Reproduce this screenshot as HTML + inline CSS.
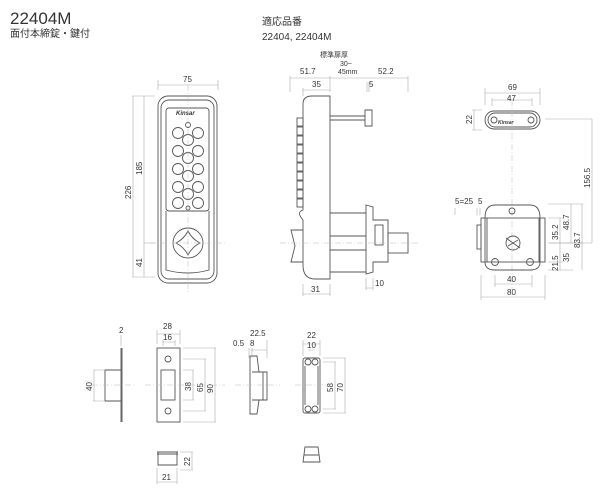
<!DOCTYPE html>
<html><head><meta charset="utf-8"><style>
html,body{margin:0;padding:0;background:#fff}
svg{display:block}
text{font-family:"Liberation Sans","Noto Sans CJK JP",sans-serif;fill:#333}
.o{fill:none;stroke:#555;stroke-width:0.9}
.d{fill:none;stroke:#aaa;stroke-width:0.6}
.c{fill:none;stroke:#bbb;stroke-width:0.5;stroke-dasharray:6 2 1 2}
.t{font-size:8px}
</style></head><body>
<svg width="600" height="493" viewBox="0 0 600 493">
<text x="10" y="24" style="font-size:17px">22404M</text>
<text x="10" y="37" style="font-size:10px">面付本締錠・鍵付</text>
<text x="262" y="25" style="font-size:10px">適応品番</text>
<text x="262" y="40" style="font-size:10px">22404, 22404M</text>

<!-- front view -->
<path class="d" d="M158 80V90M218 80V90M158 85H218M132 96H155M132 277H155M144 243H155M133 96V277M144 96V277"/>
<text class="t" x="183" y="82">75</text>
<text class="t" transform="translate(131,199) rotate(-90)">226</text>
<text class="t" transform="translate(142,175) rotate(-90)">185</text>
<text class="t" transform="translate(142,267) rotate(-90)">41</text>
<rect class="o" x="158" y="96" width="59" height="187" rx="10"/>
<rect class="o" x="161" y="100" width="53" height="179" rx="8"/>
<rect class="o" x="166" y="108" width="43" height="103" rx="3"/>
<path class="o" d="M166 211V270Q188 276 209 270V211"/>
<text x="176" y="115" style="font-size:6px;font-style:italic;font-weight:bold">Kinsar</text>
<g class="o">
<circle cx="178" cy="133" r="5.5"/><circle cx="198" cy="133" r="5.5"/>
<circle cx="178" cy="151" r="5.5"/><circle cx="198" cy="151" r="5.5"/>
<circle cx="178" cy="169" r="5.5"/><circle cx="198" cy="169" r="5.5"/>
<circle cx="178" cy="187" r="5.5"/><circle cx="198" cy="187" r="5.5"/>
<circle cx="178" cy="203" r="5.5"/><circle cx="198" cy="203" r="5.5"/>
<circle cx="188" cy="140" r="5.5"/><circle cx="188" cy="158" r="5.5"/>
<circle cx="188" cy="176" r="5.5"/><circle cx="188" cy="194" r="5.5"/>
<circle cx="188" cy="125" r="2.5"/><circle cx="188" cy="208" r="2"/>
<circle cx="188" cy="243" r="15"/>
<path d="M188 231Q192 239 200 243Q192 247 188 255Q184 247 176 243Q184 239 188 231Z"/>
</g>
<path class="c" d="M188 85V292M150 243H225"/>

<!-- side view -->
<text class="t" x="320" y="57" style="font-size:7px">標準扉厚</text>
<text class="t" x="340" y="66" style="font-size:7px">30~</text>
<text class="t" x="338" y="74" style="font-size:7px">45mm</text>
<text class="t" x="300" y="74">51.7</text>
<text class="t" x="378" y="74">52.2</text>
<text class="t" x="312" y="87">35</text>
<text class="t" x="369" y="87">5</text>
<path class="d" d="M290 78H408M290 76V92M330 76V92M408 76V92M303 90H330M303 88V96M367 82V92M369 82V92"/>
<path class="o" d="M303 104Q303 96 312 96H330V279H315Q303 279 303 265V220Q296 212 303 210Z"/>
<path class="o" d="M330 120H365M330 116H365M365 110H372V126H365Z"/>
<g class="o">
<rect x="297" y="118" width="6" height="8"/><rect x="297" y="127" width="6" height="8"/>
<rect x="297" y="136" width="6" height="8"/><rect x="297" y="145" width="6" height="8"/>
<rect x="297" y="154" width="6" height="8"/><rect x="297" y="163" width="6" height="8"/>
<rect x="297" y="172" width="6" height="8"/><rect x="297" y="181" width="6" height="8"/>
<rect x="297" y="190" width="6" height="8"/><rect x="297" y="199" width="6" height="8"/>
<path d="M303 230H291L295 246L291 262H303"/>
<path d="M330 213H366M330 272H366M330 236H366M330 250H366"/>
<path d="M366 205L373 207V220H388V262H373V272L366 274Z"/>
<rect x="375" y="225" width="8" height="20"/>
<rect x="388" y="233" width="20" height="20"/>
</g>
<path class="c" d="M280 243H420"/>
<path class="d" d="M303 284V296M330 284V296M303 294H330M366 278V290M373 278V290M366 288H373"/>
<text class="t" x="311" y="292">31</text>
<text class="t" x="375" y="286">10</text>

<!-- strike top -->
<path class="d" d="M485 88V105M540 88V105M485 93H540M492 100H532M492 98V106M532 98V106M472 110H482M472 130H482M474 110V130M545 119H592M592 119V243M548 243H592"/>
<text class="t" x="508" y="90">69</text>
<text class="t" x="507" y="101">47</text>
<text class="t" transform="translate(472,124) rotate(-90)">22</text>
<text class="t" transform="translate(590,188) rotate(-90)">156.5</text>
<rect class="o" x="485" y="111" width="55" height="18" rx="9"/>
<rect class="o" x="488" y="113" width="49" height="14" rx="7"/>
<circle class="o" cx="494" cy="120" r="3"/><circle class="o" cx="531" cy="120" r="3"/>
<text x="498" y="124" style="font-size:5px;font-style:italic;font-weight:bold">Kinsar</text>
<path class="c" d="M512 100V290"/>
<!-- case -->
<text class="t" x="455" y="204">5=25</text><text class="t" x="478" y="204">5</text>
<path class="d" d="M455 208V215M477 208V215M480 208V215M548 218H563M548 262H563M548 270H573M548 204H583M560 218V262M571 204V243M560 262V270M582 204V270M549 243H583M495 275V287M532 275V287M495 284H532M481 275V300M545 275V300M481 297H545"/>
<text class="t" transform="translate(558,240) rotate(-90)">35.2</text>
<text class="t" transform="translate(569,230) rotate(-90)">48.7</text>
<text class="t" transform="translate(580,248) rotate(-90)">83.7</text>
<text class="t" transform="translate(558,271) rotate(-90)">21.5</text>
<text class="t" transform="translate(569,262) rotate(-90)">35</text>
<text class="t" x="507" y="282">40</text>
<text class="t" x="507" y="295">80</text>
<path class="o" d="M485 218Q485 205 495 205H530Q540 205 540 218V262Q540 270 530 270H495Q485 270 485 262Z"/>
<rect class="o" x="481" y="218" width="64" height="44"/>
<rect class="o" x="477" y="225" width="4" height="24"/>
<path class="o" d="M487 218V262M539 218V262"/>
<circle class="o" cx="512" cy="211" r="3"/><circle class="o" cx="495" cy="262" r="3.5"/><circle class="o" cx="530" cy="262" r="3.5"/>
<circle class="o" cx="513" cy="243" r="7"/>
<path class="o" d="M506 238L520 248M508 246L518 240"/>

<!-- bottom parts -->
<path class="o" d="M121 348V422M122 348V422M105 370H121V401H105Z"/>
<path class="d" d="M93 370H104M93 401H104M94 370V401M121 335V346"/>
<text class="t" transform="translate(92,391) rotate(-90)">40</text>
<text class="t" x="119" y="333">2</text>
<rect class="o" x="157" y="348" width="23" height="74"/>
<rect class="o" x="161" y="370" width="14" height="30"/>
<circle class="o" cx="168" cy="359" r="3"/><circle class="o" cx="168" cy="411" r="3"/>
<path class="d" d="M157 330V344M180 330V344M157 334H180M163 342H175M163 340V346M175 340V346M183 370H194M183 400H194M193 370V400M183 359H206M183 411H206M205 359V411M183 348H216M183 422H216M215 348V422"/>
<text class="t" x="163" y="329">28</text><text class="t" x="163" y="340">16</text>
<text class="t" transform="translate(191,391) rotate(-90)">38</text>
<text class="t" transform="translate(203,392) rotate(-90)">65</text>
<text class="t" transform="translate(213,393) rotate(-90)">90</text>
<path class="o" d="M157 452H178M158 452V465H177V452M157 454H178"/>
<path class="d" d="M180 452H193M180 470H193M192 452V470M157 468V484M177 468V484M157 482H177"/>
<text class="t" transform="translate(190,466) rotate(-90)">22</text>
<text class="t" x="162" y="480">21</text>
<path class="o" d="M250 356H257L259 372H267V400H259L257 414H250Z"/>
<path class="o" d="M252 372H263V400H252"/>
<path class="d" d="M249 348V358M252 348V358M250 350H267M267 340V358"/>
<text class="t" x="233" y="346">0.5</text><text class="t" x="250" y="346">8</text><text class="t" x="250" y="336">22.5</text>
<rect class="o" x="303" y="358" width="17" height="55" rx="2"/>
<path class="o" d="M305 366V405M318 366V405"/>
<circle class="o" cx="308" cy="362" r="3"/><circle class="o" cx="315" cy="362" r="3"/>
<circle class="o" cx="308" cy="409" r="3"/><circle class="o" cx="315" cy="409" r="3"/>
<path class="d" d="M303 340V356M320 340V356M303 344H320M308 350H315M323 362H336M323 409H336M335 362V409M323 358H346M323 413H346M345 358V413"/>
<text class="t" x="307" y="338">22</text><text class="t" x="307" y="348">10</text>
<text class="t" transform="translate(333,392) rotate(-90)">58</text>
<text class="t" transform="translate(343,392) rotate(-90)">70</text>
<path class="o" d="M305 447H318L320 462H303Z M304 455H319"/>
<path class="c" d="M92 385H135M145 385H225M235 385H280M295 385H330"/>
</svg>
</body></html>
